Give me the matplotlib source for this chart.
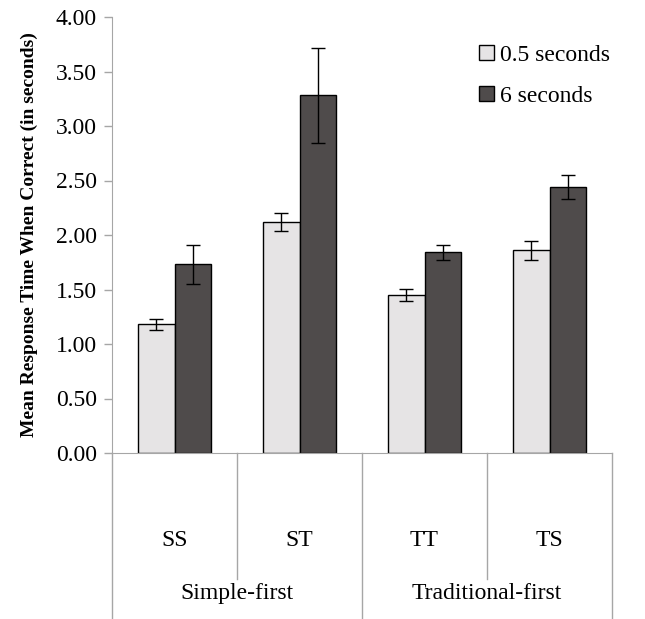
import matplotlib
matplotlib.use("Agg")
import matplotlib.pyplot as plt
import numpy as np

plt.rcParams['font.family'] = ['Liberation Serif', 'DejaVu Serif']

conditions = ['SS', 'ST', 'TT', 'TS']
groups = ['Simple-first', 'Traditional-first']
short_vals = [1.18, 2.12, 1.45, 1.86]
short_err = [0.05, 0.085, 0.055, 0.085]
long_vals = [1.73, 3.28, 1.84, 2.44]
long_err = [0.175, 0.44, 0.07, 0.11]
series_names = ['0.5 seconds', '6 seconds']

light = '#E6E4E5'
dark = '#4F4B4B'
axis_gray = '#A6A6A6'
fs = 17

fig = plt.figure(figsize=(6.45, 6.19), dpi=100)
ax = fig.add_axes([112/645, (619-453)/619, 500/645, 436/619])

x = np.arange(len(conditions))
w = 0.29
ax.bar(x - w/2, short_vals, w, color=light, edgecolor='black', linewidth=1.0,
       yerr=short_err, capsize=5, error_kw=dict(elinewidth=1, capthick=1, ecolor='black'),
       label=series_names[0])
ax.bar(x + w/2, long_vals, w, color=dark, edgecolor='black', linewidth=1.0,
       yerr=long_err, capsize=5, error_kw=dict(elinewidth=1, capthick=1, ecolor='black'),
       label=series_names[1])

ax.set_xlim(-0.5, 3.5)
ax.set_ylim(0, 4)
ax.set_yticks(np.arange(0, 4.01, 0.5))
ax.set_yticklabels(['%.2f' % v for v in np.arange(0, 4.01, 0.5)], fontsize=fs)
ax.set_xticks([])
for s in ['top', 'right']:
    ax.spines[s].set_visible(False)
for s in ['left', 'bottom']:
    ax.spines[s].set_color(axis_gray)
ax.tick_params(axis='y', color=axis_gray, length=6, width=1, pad=5)
ax.set_ylabel('Mean Response Time When Correct (in seconds)', fontsize=14,
              fontweight='bold', labelpad=13)

# grouped category axis below the plot
trans = ax.get_xaxis_transform()
for xs in [0.5, 2.5]:
    ax.plot([xs, xs], [0, -0.289], color=axis_gray, lw=1, transform=trans, clip_on=False)
for xs in [-0.5, 1.5, 3.5]:
    ax.plot([xs, xs], [0, -0.39], color=axis_gray, lw=1, transform=trans, clip_on=False)
for i, c in enumerate(conditions):
    ax.text(i, -0.2, c, ha='center', va='center', fontsize=fs, transform=trans)
for i, g in enumerate(groups):
    ax.text(0.5 + 2*i, -0.323, g, ha='center', va='center', fontsize=fs, transform=trans)

ax.legend(loc='upper left', bbox_to_anchor=(358/500, 0.957), frameon=False, fontsize=fs,
          handlelength=0.6, handleheight=0.6, handletextpad=0.25, labelspacing=0.85,
          borderaxespad=0.0)

fig.savefig('out.png', dpi=100)
